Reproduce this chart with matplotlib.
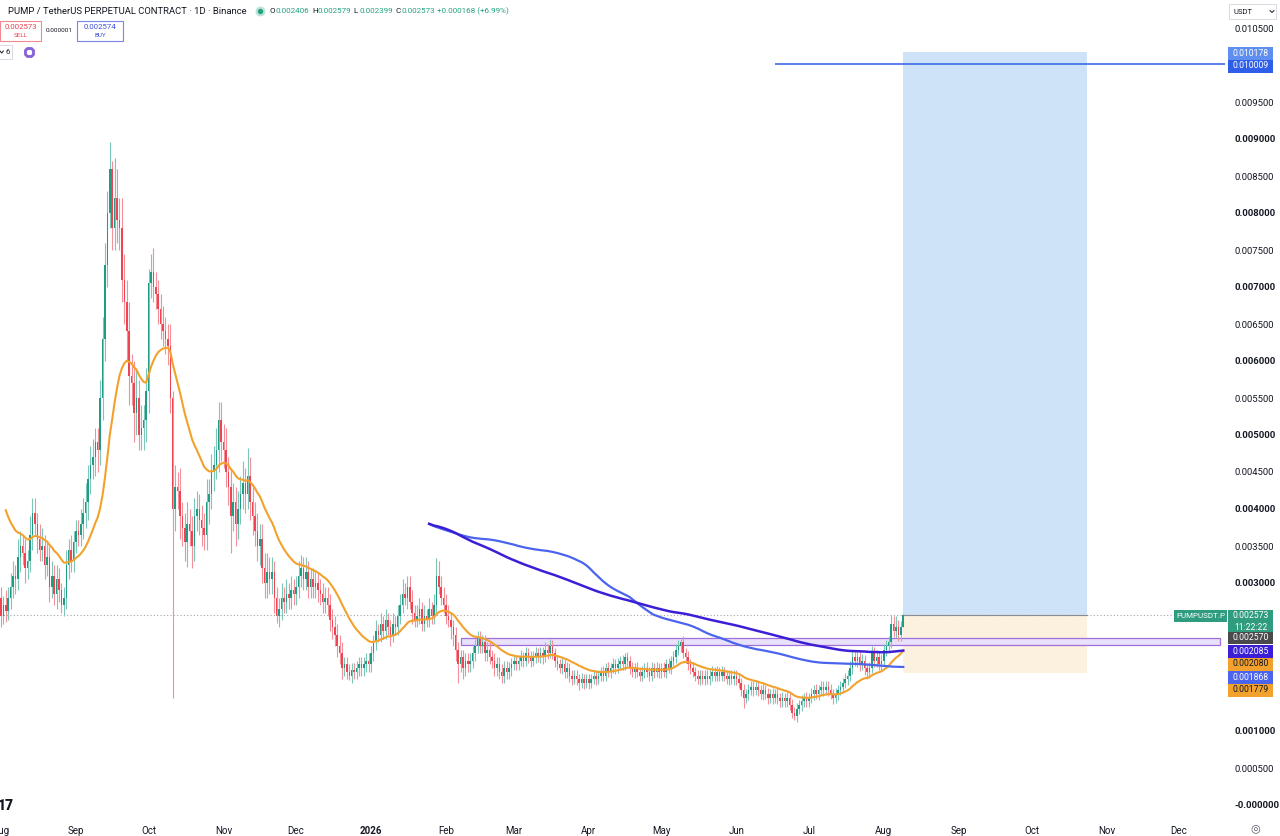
import numpy as np
import pandas as pd
import matplotlib
matplotlib.use("Agg")
import matplotlib.pyplot as plt
import matplotlib.dates as mdates
from matplotlib.patches import Rectangle
from matplotlib.lines import Line2D

plt.rcParams['font.family'] = ['Roboto', 'DejaVu Sans']

# ---------------- data (prices in 1e-6 USDT) ----------------
month_starts = ['2025-07-10', '2025-08-01', '2025-09-01', '2025-10-01', '2025-11-01',
                '2025-12-01', '2026-01-01', '2026-02-01', '2026-03-01', '2026-04-01',
                '2026-05-01', '2026-06-01', '2026-07-01', '2026-08-01']

close_2025_07 = [5600, 5800, 5500, 5200, 5100, 4900, 4700, 4500, 4400, 4400, 4200, 4100, 3900, 3800, 3700, 3500, 3400, 3200, 3100, 3000, 2900, 2800]
uw_2025_07 = [400, 300, 300, 250, 300, 250, 250, 200, 250, 250, 200, 250, 200, 200, 200, 200, 200, 150, 200, 150, 150, 150]
lw_2025_07 = [400, 300, 300, 300, 250, 250, 250, 200, 250, 200, 200, 200, 200, 200, 200, 150, 200, 150, 150, 150, 150, 150]

close_2025_08 = [2550, 2700, 2620, 2800, 2950, 3100, 3050, 3350, 3500, 3400, 3200, 3300, 3650, 3950, 3800, 3600, 3450, 3500, 3250, 3350, 2950, 3100, 2850, 3050, 2900, 2700, 2800, 3250, 3450, 3300, 3550]
uw_2025_08 = [150, 120, 200, 150, 180, 200, 150, 250, 200, 150, 200, 150, 250, 200, 200, 150, 200, 250, 150, 200, 150, 200, 150, 200, 150, 100, 150, 200, 150, 200, 150]
lw_2025_08 = [150, 100, 150, 120, 150, 150, 200, 150, 200, 150, 200, 150, 150, 200, 150, 200, 150, 150, 200, 150, 200, 150, 150, 200, 150, 100, 150, 150, 200, 150, 150]

close_2025_09 = [3700, 3650, 3800, 3950, 4100, 4400, 4600, 4700, 4900, 4800, 5500, 6300, 7300, 8000, 8600, 7800, 8200, 7900, 7800, 7100, 6800, 6400, 5800, 5700, 5300, 5500, 5000, 5100, 5200, 5600]
uw_2025_09 = [150, 150, 200, 200, 250, 200, 250, 250, 200, 200, 250, 300, 300, 300, 360, 100, 540, 400, 300, 400, 350, 300, 400, 300, 300, 400, 250, 300, 200, 300]
lw_2025_09 = [150, 150, 150, 200, 200, 250, 200, 200, 250, 300, 200, 300, 300, 300, 200, 300, 300, 300, 300, 300, 300, 400, 400, 300, 400, 300, 200, 200, 300, 300]

close_2025_10 = [7050, 7200, 7000, 6900, 6700, 6500, 6400, 6300, 6200, 5500, 4000, 4300, 4250, 3900, 3750, 3550, 3800, 3700, 3500, 3900, 4000, 3850, 3750, 3650, 4100, 4200, 4500, 4600, 4800, 5200, 4900]
uw_2025_10 = [200, 250, 330, 200, 200, 200, 250, 200, 200, 300, 100, 300, 200, 300, 200, 200, 300, 200, 200, 250, 250, 200, 200, 200, 300, 200, 250, 250, 300, 240, 250]
lw_2025_10 = [300, 200, 200, 200, 200, 200, 200, 200, 250, 200, 2550, 300, 250, 300, 250, 250, 330, 200, 300, 200, 200, 200, 250, 200, 200, 300, 200, 250, 200, 300, 250]

close_2025_11 = [4800, 4500, 4300, 3900, 4100, 3800, 4000, 4200, 4350, 4200, 4450, 4100, 3900, 3700, 3500, 3600, 3200, 3000, 3150, 3050, 3150, 2800, 2550, 2650, 2800, 2750, 2850, 2800, 2900, 2850]
uw_2025_11 = [250, 300, 200, 250, 250, 200, 250, 250, 300, 200, 370, 250, 200, 200, 250, 200, 200, 200, 250, 200, 200, 150, 150, 150, 200, 150, 200, 150, 200, 150]
lw_2025_11 = [250, 200, 250, 500, 200, 300, 200, 200, 200, 250, 200, 250, 250, 200, 200, 250, 200, 200, 200, 200, 200, 200, 90, 150, 150, 150, 150, 150, 150, 150]

close_2025_12 = [2950, 3100, 3200, 3050, 3150, 2950, 3050, 2950, 3000, 2900, 2850, 2750, 2800, 2700, 2500, 2400, 2300, 2150, 2050, 1850, 1900, 1800, 1750, 1820, 1800, 1850, 1900, 1850, 1900, 1950, 1900]
uw_2025_12 = [150, 200, 180, 150, 200, 150, 150, 150, 150, 150, 150, 150, 150, 150, 150, 150, 150, 150, 150, 150, 100, 100, 100, 100, 100, 100, 100, 100, 100, 100, 100]
lw_2025_12 = [150, 150, 150, 150, 150, 150, 150, 150, 150, 150, 150, 150, 150, 150, 150, 150, 150, 150, 150, 150, 100, 100, 60, 100, 100, 100, 100, 100, 100, 100, 100]

close_2026_01 = [2050, 2200, 2350, 2300, 2450, 2350, 2500, 2400, 2300, 2450, 2400, 2550, 2700, 2850, 2800, 2950, 2750, 2600, 2500, 2550, 2650, 2450, 2550, 2500, 2650, 2550, 2700, 3100, 2950, 2800, 2700]
uw_2026_01 = [100, 100, 150, 100, 150, 100, 150, 100, 100, 150, 100, 150, 150, 200, 150, 150, 150, 150, 100, 150, 150, 100, 150, 100, 150, 100, 150, 240, 200, 150, 150]
lw_2026_01 = [100, 100, 100, 100, 100, 100, 100, 100, 150, 100, 100, 100, 100, 100, 100, 150, 100, 150, 100, 100, 100, 100, 100, 100, 100, 100, 100, 100, 100, 100, 100]

close_2026_02 = [2550, 2500, 2400, 2300, 2100, 1900, 2000, 1850, 1950, 1900, 1950, 2050, 2150, 2250, 2150, 2200, 2050, 2100, 2000, 1950, 1850, 1900, 1800, 1750, 1850, 1800, 1850, 1900]
uw_2026_02 = [150, 150, 100, 100, 100, 100, 100, 100, 100, 100, 100, 100, 100, 100, 100, 100, 100, 100, 100, 100, 100, 100, 100, 100, 100, 100, 80, 80]
lw_2026_02 = [100, 100, 150, 150, 150, 250, 100, 150, 100, 100, 100, 100, 100, 100, 100, 100, 100, 100, 100, 100, 100, 100, 100, 100, 100, 100, 100, 100]

close_2026_03 = [1950, 1900, 1950, 2000, 1950, 2050, 2000, 1950, 2000, 2050, 2000, 2050, 2000, 2100, 2050, 2150, 2050, 1950, 1900, 1850, 1900, 1800, 1850, 1750, 1700, 1750, 1700, 1650, 1700, 1650, 1700]
uw_2026_03 = [80, 70, 80, 90, 70, 90, 70, 80, 80, 90, 70, 90, 80, 100, 70, 100, 80, 70, 80, 70, 80, 70, 80, 70, 70, 80, 70, 70, 80, 70, 70]
lw_2026_03 = [80, 70, 80, 70, 80, 70, 80, 90, 70, 80, 70, 80, 90, 70, 80, 70, 80, 90, 80, 70, 80, 90, 80, 90, 80, 70, 80, 100, 70, 80, 70]

close_2026_04 = [1650, 1700, 1750, 1700, 1750, 1800, 1750, 1850, 1800, 1850, 1900, 1850, 1900, 1950, 1900, 2000, 1950, 1850, 1800, 1850, 1800, 1750, 1800, 1850, 1800, 1750, 1850, 1800, 1850, 1800]
uw_2026_04 = [70, 70, 80, 70, 80, 70, 80, 70, 80, 70, 80, 70, 80, 70, 80, 60, 70, 70, 80, 70, 80, 70, 80, 70, 80, 70, 80, 70, 80, 70]
lw_2026_04 = [80, 70, 70, 80, 70, 80, 70, 80, 70, 80, 70, 80, 70, 80, 70, 80, 70, 80, 70, 80, 70, 80, 70, 80, 70, 80, 70, 80, 70, 80]

close_2026_05 = [1850, 1800, 1900, 1850, 1950, 2000, 2100, 2150, 2200, 2050, 2000, 1900, 1850, 1800, 1750, 1700, 1750, 1700, 1750, 1700, 1750, 1800, 1750, 1800, 1750, 1800, 1750, 1700, 1750, 1700, 1750]
uw_2026_05 = [70, 80, 70, 80, 70, 80, 70, 80, 50, 80, 70, 80, 70, 80, 70, 80, 70, 80, 70, 80, 70, 80, 70, 80, 70, 80, 70, 80, 70, 80, 70]
lw_2026_05 = [80, 70, 80, 70, 80, 70, 80, 70, 80, 70, 80, 70, 80, 70, 80, 70, 80, 70, 80, 70, 80, 70, 80, 70, 80, 70, 80, 70, 80, 70, 80]

close_2026_06 = [1700, 1650, 1550, 1450, 1500, 1550, 1600, 1550, 1600, 1550, 1500, 1550, 1500, 1450, 1500, 1450, 1500, 1450, 1400, 1450, 1400, 1450, 1350, 1250, 1200, 1300, 1350, 1400, 1450, 1400]
uw_2026_06 = [70, 80, 70, 80, 70, 80, 70, 80, 70, 80, 70, 80, 70, 80, 70, 80, 70, 80, 70, 80, 70, 80, 70, 80, 70, 80, 70, 80, 70, 80]
lw_2026_06 = [80, 70, 80, 140, 70, 80, 70, 80, 70, 80, 70, 80, 70, 80, 70, 80, 70, 80, 70, 80, 70, 80, 70, 80, 50, 80, 70, 80, 70, 80]

close_2026_07 = [1450, 1500, 1550, 1500, 1550, 1600, 1550, 1600, 1550, 1500, 1450, 1500, 1550, 1600, 1650, 1700, 1750, 1850, 2000, 1950, 2000, 1900, 1950, 1850, 1800, 1850, 2050, 1950, 2000, 1900, 1950]
uw_2026_07 = [70, 80, 70, 80, 70, 80, 70, 80, 70, 80, 70, 80, 70, 80, 70, 80, 70, 100, 100, 80, 90, 80, 90, 80, 70, 80, 100, 80, 90, 80, 90]
lw_2026_07 = [80, 70, 80, 70, 80, 70, 80, 70, 80, 70, 80, 70, 80, 70, 80, 70, 80, 70, 80, 70, 80, 90, 80, 90, 100, 80, 70, 80, 90, 80, 70]

close_2026_08 = [2100, 2150, 2200, 2450, 2350, 2400, 2300, 2406, 2573]
uw_2026_08 = [80, 80, 90, 120, 100, 160, 100, 80, 6]
lw_2026_08 = [70, 80, 70, 80, 80, 90, 90, 80, 7]

closes_by_month = [close_2025_07, close_2025_08, close_2025_09, close_2025_10, close_2025_11, close_2025_12,
                   close_2026_01, close_2026_02, close_2026_03, close_2026_04, close_2026_05, close_2026_06,
                   close_2026_07, close_2026_08]
uw_by_month = [uw_2025_07, uw_2025_08, uw_2025_09, uw_2025_10, uw_2025_11, uw_2025_12, uw_2026_01,
               uw_2026_02, uw_2026_03, uw_2026_04, uw_2026_05, uw_2026_06, uw_2026_07, uw_2026_08]
lw_by_month = [lw_2025_07, lw_2025_08, lw_2025_09, lw_2025_10, lw_2025_11, lw_2025_12, lw_2026_01,
               lw_2026_02, lw_2026_03, lw_2026_04, lw_2026_05, lw_2026_06, lw_2026_07, lw_2026_08]

# indicator periods
fast_ema_len = 25
slow_len = 200

# drawing levels
target_price = 0.010178
entry_price = 0.002573
stop_price = 0.001779
ray_price = 0.010009
zone_low, zone_high = 0.002162, 0.002257
box_start, box_end = '2026-08-09', '2026-10-24'
zone_start, zone_end = '2026-02-07', '2026-12-18'
ray_start = '2026-06-17'

month_ticks = ['2025-08-01', '2025-09-01', '2025-10-01', '2025-11-01', '2025-12-01', '2026-01-01',
               '2026-02-01', '2026-03-01', '2026-04-01', '2026-05-01', '2026-06-01', '2026-07-01',
               '2026-08-01', '2026-09-01', '2026-10-01', '2026-11-01', '2026-12-01']
month_labels = ['Aug', 'Sep', 'Oct', 'Nov', 'Dec', '2026', 'Feb', 'Mar', 'Apr', 'May', 'Jun', 'Jul',
                'Aug', 'Sep', 'Oct', 'Nov', 'Dec']

# ---------------- build series ----------------
dates = []
for s, vals in zip(month_starts, closes_by_month):
    dates.extend(pd.date_range(s, periods=len(vals), freq='D'))
xd = mdates.date2num(pd.DatetimeIndex(dates).to_pydatetime())
c = np.concatenate([np.array(v, float) for v in closes_by_month]) * 1e-6
uw = np.concatenate([np.array(v, float) for v in uw_by_month]) * 1e-6
lw = np.concatenate([np.array(v, float) for v in lw_by_month]) * 1e-6
o = np.r_[c[0] + 0.0001, c[:-1]]
hi = np.maximum(o, c) + uw
lo = np.minimum(o, c) - lw


def ema_seeded(v, n):
    out = np.full(len(v), np.nan)
    out[n - 1] = v[:n].mean()
    a = 2.0 / (n + 1)
    for i in range(n, len(v)):
        out[i] = a * v[i] + (1 - a) * out[i - 1]
    return out


ema_fast = ema_seeded(c, fast_ema_len)
ema_slow = ema_seeded(c, slow_len)
sma_slow = pd.Series(c).rolling(slow_len).mean().values

# ---------------- figure ----------------
W, H = 1280, 836
fig = plt.figure(figsize=(12.8, 8.36), dpi=100, facecolor='white')
ax = fig.add_axes([0, 21 / H, 1225 / W, 815 / H])
ax.set_facecolor('white')
for sp in ax.spines.values():
    sp.set_visible(False)

t0 = mdates.date2num(pd.Timestamp('2026-01-01').to_pydatetime())
ax.set_xlim(t0 - 153.4, t0 + (1225 - 370) / 2.422)
ax.set_ylim(-10 / 74000, 805 / 74000)

d2n = lambda s: mdates.date2num(pd.Timestamp(s).to_pydatetime())

# long position box
bx0, bx1 = d2n(box_start), d2n(box_end)
ax.add_patch(Rectangle((bx0, entry_price), bx1 - bx0, target_price - entry_price,
                       facecolor='#cfe3f8', edgecolor='none', zorder=1))
ax.add_patch(Rectangle((bx0, stop_price), bx1 - bx0, entry_price - stop_price,
                       facecolor='#fcf1de', edgecolor='none', zorder=1))
ax.plot([bx0, bx1], [entry_price, entry_price], color='#8a8d96', lw=0.8, zorder=1.2)

# purple zone
zx0, zx1 = d2n(zone_start), d2n(zone_end)
ax.add_patch(Rectangle((zx0, zone_low), zx1 - zx0, zone_high - zone_low,
                       facecolor='#e9e0fb', edgecolor='#a06fd9', lw=0.9, zorder=1.5))

# current price dotted line
ax.axhline(entry_price, color='#a0a3ab', lw=0.8, ls=(0, (1, 2)), zorder=1.1)

# ray
ax.hlines(ray_price, d2n(ray_start), ax.get_xlim()[1], color='#2f5fe8', lw=1.1, zorder=2)

# candles
up = c >= o
body_col = np.where(up, '#1f9c83', '#ef4452')
wick_col = np.where(up, '#7cc7b8', '#f4909a')
ax.vlines(xd, lo, hi, colors=wick_col, lw=0.8, zorder=2.8)
ax.bar(xd, np.maximum(np.abs(c - o), 0.000012), bottom=np.minimum(o, c), width=0.62,
       color=body_col, linewidth=0, zorder=3)

# moving averages
ax.plot(xd, ema_fast, color='#f2a22c', lw=1.5, zorder=4)
ax.plot(xd, sma_slow, color='#4a64ee', lw=1.6, zorder=4)
ax.plot(xd, ema_slow, color='#3b1fd6', lw=1.8, zorder=4.1)

# axes ticks (labels hidden behind price tags are left blank)
yt = np.arange(0, 0.01051, 0.0005)
hidden = {0.0015, 0.002, 0.0025, 0.01}
ax.yaxis.tick_right()
ax.set_yticks(yt)
ylabels = []
for v in yt:
    if any(abs(v - h) < 1e-9 for h in hidden):
        ylabels.append('')
    elif abs(v) < 1e-12:
        ylabels.append('-0.000000')
    else:
        ylabels.append(f'{v:.6f}')
ax.set_yticklabels(ylabels)
ax.tick_params(axis='y', length=0, pad=7, labelsize=6.8, labelcolor='#131722')
for v, lab in zip(yt, ax.get_yticklabels()):
    if abs(round(v / 0.001) * 0.001 - v) < 1e-9:
        lab.set_fontweight('bold')

ax.set_xticks([d2n(s) for s in month_ticks])
ax.set_xticklabels(month_labels)
ax.tick_params(axis='x', length=0, pad=8, labelsize=7, labelcolor='#131722')
for lab in ax.get_xticklabels():
    if lab.get_text() == '2026':
        lab.set_fontweight('bold')


# ---------------- overlays in pixel coords ----------------
def px_rect(x0, y0, w, h, fc, ec='none', lw=0.0, z=10):
    fig.add_artist(Rectangle((x0 / W, 1 - (y0 + h) / H), w / W, h / H, transform=fig.transFigure,
                             facecolor=fc, edgecolor=ec, lw=lw, zorder=z))


def px_text(x, y, s, z=11, **kw):
    kw.setdefault('va', 'center')
    fig.text(x / W, 1 - y / H, s, zorder=z, **kw)


def tag(s, yc, fc, tc='white', h=13):
    px_rect(1228, yc - h / 2, 45, h, fc)
    px_text(1250.5, yc, s, ha='center', color=tc, fontsize=6.2)


tag('0.010178', 53, '#5d8ef0')
tag('0.010009', 66, '#2f5fe8')
px_rect(1228, 610, 45, 24, '#2f9c7f')
px_text(1250.5, 616, '0.002573', ha='center', color='white', fontsize=6.2)
px_text(1250.5, 627, '11:22:22', ha='center', color='white', fontsize=6.2)
px_rect(1174, 610, 53, 12, '#2f9c7f')
px_text(1200.5, 616, 'PUMPUSDT.P', ha='center', color='white', fontsize=5.8)
tag('0.002570', 638, '#4a4a4d', h=12)
tag('0.002085', 651, '#3b1fd6')
tag('0.002080', 664, '#f2a22c', tc='#131722')
tag('0.001868', 677, '#4a64ee')
tag('0.001779', 690, '#f2a22c', tc='#131722')

# USDT selector
px_rect(1229, 4, 47, 15, 'white', ec='#d1d4dc', lw=0.6)
px_text(1234, 11.5, 'USDT', color='#131722', fontsize=5.5)
fig.add_artist(Line2D([1270 / W, 1272 / W, 1274 / W], [1 - 10.5 / H, 1 - 12.5 / H, 1 - 10.5 / H],
                      transform=fig.transFigure, color='#131722', lw=0.7, zorder=11))

# header
px_text(8, 11, 'PUMP / TetherUS PERPETUAL CONTRACT \u00b7 1D \u00b7 Binance', color='#131722', fontsize=6.8)
fig.add_artist(Line2D([260 / W], [1 - 11 / H], marker='o', ms=5.5, mfc='#26a17f', mec='#bfe3d8', mew=1.6,
                      transform=fig.transFigure, zorder=11))
ohlc_parts = [(270, 'O', '0.002406'), (312, 'H', '0.002579'), (353, 'L', '0.002399'), (395, 'C', '0.002573')]
for xx, k, val in ohlc_parts:
    px_text(xx, 11, k, color='#131722', fontsize=5.8)
    px_text(xx + 6, 11, val, color='#22a07e', fontsize=5.8)
px_text(437, 11, '+0.000168 (+6.99%)', color='#22a07e', fontsize=5.8)

# sell / buy
px_rect(0, 21, 41, 20, 'white', ec='#f08a92', lw=0.8)
px_text(20.5, 27, '0.002573', ha='center', color='#e8434f', fontsize=5.6)
px_text(20.5, 35.5, 'SELL', ha='center', color='#e8434f', fontsize=4.6)
px_text(46, 31, '0.000001', color='#131722', fontsize=4.6)
px_rect(77, 21, 46, 20, 'white', ec='#7b86e8', lw=0.8)
px_text(100, 27, '0.002574', ha='center', color='#3f51d8', fontsize=5.6)
px_text(100, 35.5, 'BUY', ha='center', color='#3f51d8', fontsize=4.6)

# collapse + gear
px_rect(-2, 45, 14, 14, 'white', ec='#d1d4dc', lw=0.6)
fig.add_artist(Line2D([0 / W, 1.7 / W, 3.4 / W], [1 - 51 / H, 1 - 53 / H, 1 - 51 / H],
                      transform=fig.transFigure, color='#131722', lw=0.7, zorder=11))
px_text(6, 52, '6', color='#131722', fontsize=5.5)
fig.add_artist(Line2D([29 / W], [1 - 52 / H], marker='8', ms=6.5, mfc='white', mec='#8560d8', mew=2.0,
                      transform=fig.transFigure, zorder=11))

# logo and settings icon
px_text(-2, 806, '17', color='#131722', fontsize=10, fontweight='heavy')
px_text(1255, 828, '\u25ce', ha='center', color='#555a66', fontsize=8, family=['DejaVu Sans'])

fig.savefig('out.png', dpi=100, facecolor='white')
